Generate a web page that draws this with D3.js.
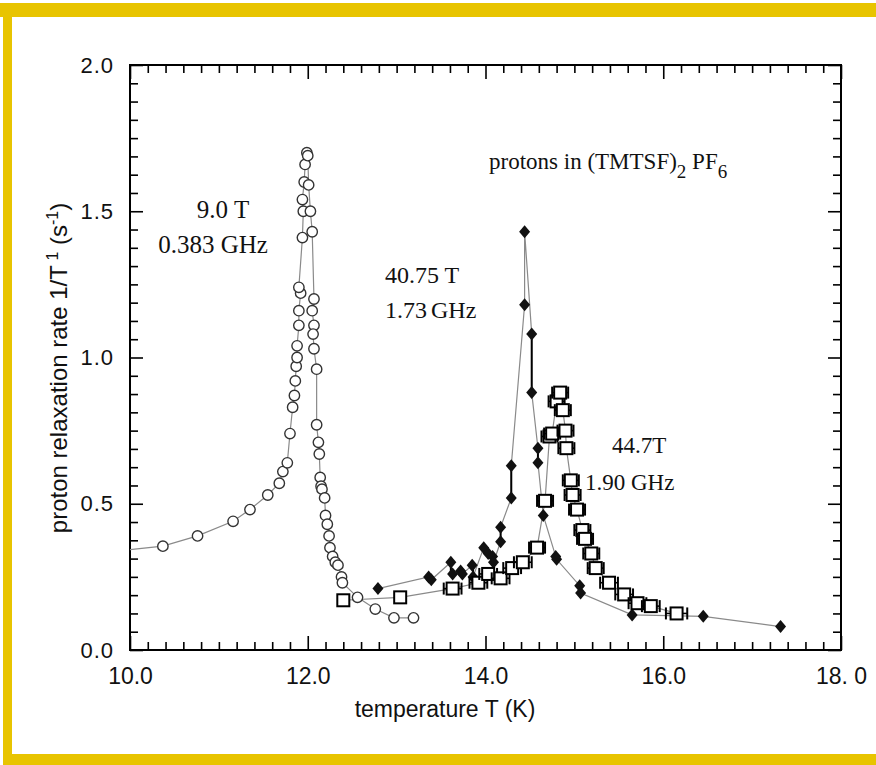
<!DOCTYPE html>
<html>
<head>
<meta charset="utf-8">
<script src="https://cdn.jsdelivr.net/npm/d3@7/dist/d3.min.js"></script>
<style>
  html, body { margin: 0; padding: 0; background: #fff; }
  svg { display: block; }
</style>
</head>
<body>
<svg id="chart" width="876" height="765"></svg>
<script>
// ---------------- data ----------------
const xTickValues = [10, 12, 14, 16, 18];
const xTickLabels = ["10.0", "12.0", "14.0", "16.0", "18. 0"];
const yTickValues = [0, 0.5, 1.0, 1.5, 2.0];
const yTickLabels = ["0.0", "0.5", "1.0", "1.5", "2.0"];

// 9.0 T, 0.383 GHz (open circles): [T (K), 1/T1 (s^-1)]
const series9T = [
  [9.6, 0.33], [10.37, 0.355], [10.76, 0.39], [11.16, 0.44], [11.35, 0.48],
  [11.55, 0.53], [11.68, 0.57], [11.72, 0.61], [11.77, 0.64], [11.80, 0.74],
  [11.83, 0.83], [11.85, 0.87], [11.86, 0.92], [11.87, 0.97], [11.88, 1.00],
  [11.88, 1.04], [11.90, 1.11], [11.90, 1.16], [11.92, 1.22], [11.90, 1.24],
  [11.94, 1.41], [11.95, 1.50], [11.94, 1.54], [11.96, 1.60], [11.97, 1.66],
  [11.99, 1.70], [12.00, 1.69], [12.01, 1.59], [12.03, 1.50], [12.05, 1.43],
  [12.07, 1.20], [12.05, 1.16], [12.07, 1.11], [12.06, 1.08], [12.07, 1.03],
  [12.10, 0.96], [12.10, 0.77], [12.12, 0.71], [12.13, 0.67], [12.14, 0.59],
  [12.15, 0.56], [12.16, 0.55], [12.19, 0.52], [12.20, 0.46], [12.22, 0.43],
  [12.24, 0.39], [12.25, 0.35], [12.28, 0.32], [12.31, 0.30], [12.34, 0.29],
  [12.38, 0.25], [12.39, 0.23], [12.56, 0.18], [12.76, 0.14], [12.97, 0.11],
  [13.19, 0.11]
];

// 40.75 T, 1.73 GHz (filled diamonds)
const series4075T = [
  [12.79, 0.21], [13.36, 0.25], [13.39, 0.24], [13.61, 0.30], [13.63, 0.26],
  [13.72, 0.27], [13.74, 0.26], [13.85, 0.29], [13.86, 0.25], [13.98, 0.35],
  [14.03, 0.33], [14.08, 0.32], [14.09, 0.30], [14.17, 0.37], [14.17, 0.42],
  [14.29, 0.52], [14.29, 0.63], [14.44, 1.18], [14.44, 1.43], [14.52, 1.08],
  [14.52, 0.88], [14.59, 0.69], [14.59, 0.64], [14.65, 0.46], [14.79, 0.32],
  [14.80, 0.31], [15.06, 0.22], [15.07, 0.195], [15.65, 0.12], [16.45, 0.115],
  [17.32, 0.08]
];
// vertical error bars of the 40.75 T data: [T, low, high]
const errors4075T = [
  [13.61, 0.26, 0.30], [13.86, 0.25, 0.29], [14.17, 0.37, 0.42], [14.29, 0.52, 0.63],
  [14.52, 0.88, 1.08], [14.59, 0.64, 0.69], [14.79, 0.31, 0.33], [15.07, 0.195, 0.22]
];

// 44.7 T, 1.90 GHz (open squares): [T, value, horizontal error in K]
const series447T = [
  [12.40, 0.17, 0], [13.04, 0.18, 0], [13.63, 0.21, 0.10], [13.92, 0.23, 0.10],
  [14.03, 0.26, 0.10], [14.17, 0.245, 0.10], [14.30, 0.28, 0.10], [14.42, 0.30, 0.10],
  [14.58, 0.35, 0.09], [14.67, 0.51, 0.09], [14.72, 0.73, 0.09], [14.75, 0.74, 0.09],
  [14.80, 0.85, 0.09], [14.84, 0.88, 0.09], [14.87, 0.82, 0.09], [14.90, 0.75, 0.09],
  [14.91, 0.69, 0.09], [14.96, 0.58, 0.09], [14.98, 0.53, 0.09], [15.03, 0.48, 0.09],
  [15.09, 0.41, 0.09], [15.12, 0.38, 0.09], [15.19, 0.33, 0.09], [15.24, 0.28, 0.09],
  [15.39, 0.23, 0.10], [15.56, 0.19, 0.10], [15.71, 0.16, 0.10], [15.86, 0.15, 0.10],
  [16.15, 0.125, 0.12]
];

// ---------------- layout ----------------
const svg = d3.select("#chart");
const W = 876, H = 765;
const m = { left: 130, right: 841, top: 65, bottom: 650 };

// yellow frame
svg.append("rect").attr("x", 0).attr("y", 3).attr("width", W).attr("height", 14).attr("fill", "#e8c400");
svg.append("rect").attr("x", 3).attr("y", 3).attr("width", 9).attr("height", H).attr("fill", "#e8c400");
svg.append("rect").attr("x", 3).attr("y", 754).attr("width", W).attr("height", 11).attr("fill", "#e8c400");

const x = d3.scaleLinear().domain([10, 18]).range([m.left, m.right]);
const y = d3.scaleLinear().domain([0, 2]).range([m.bottom, m.top]);

svg.append("defs").append("clipPath").attr("id", "plotclip")
  .append("rect").attr("x", m.left).attr("y", m.top)
  .attr("width", m.right - m.left).attr("height", m.bottom - m.top);

// ---------------- axes ----------------
const xMinor = d3.range(10, 18.001, 0.2).filter(v => Math.abs(v / 2 - Math.round(v / 2)) > 1e-6);
const yMinor = d3.range(0, 2.0001, 0.0625).filter(v => Math.abs(v * 2 - Math.round(v * 2)) > 1e-6);
const axisFont = "'Liberation Sans', Arial, sans-serif";

function styleAxis(g) {
  g.select(".domain").remove();
  g.selectAll(".tick line").attr("stroke", "#000").attr("stroke-width", 1.6);
}

// bottom
svg.append("g").attr("transform", `translate(0,${m.bottom})`)
  .call(d3.axisBottom(x).tickValues(xMinor).tickSize(-8).tickFormat("")).call(styleAxis);
const gBM = svg.append("g").attr("transform", `translate(0,${m.bottom})`);
gBM.call(d3.axisBottom(x).tickValues(xTickValues).tickSize(-14)
  .tickFormat((d, i) => xTickLabels[i])).call(styleAxis);
gBM.selectAll(".tick text").attr("font-family", axisFont).attr("font-size", 23)
  .attr("fill", "#111").attr("dy", "0.71em").attr("y", 18);

// top
svg.append("g").attr("transform", `translate(0,${m.top})`)
  .call(d3.axisTop(x).tickValues(xMinor).tickSize(-8).tickFormat("")).call(styleAxis);
svg.append("g").attr("transform", `translate(0,${m.top})`)
  .call(d3.axisTop(x).tickValues(xTickValues).tickSize(-14).tickFormat("")).call(styleAxis);

// left
svg.append("g").attr("transform", `translate(${m.left},0)`)
  .call(d3.axisLeft(y).tickValues(yMinor).tickSize(-8).tickFormat("")).call(styleAxis);
const gLM = svg.append("g").attr("transform", `translate(${m.left},0)`);
gLM.call(d3.axisLeft(y).tickValues(yTickValues).tickSize(-13)
  .tickFormat((d, i) => yTickLabels[i])).call(styleAxis);
gLM.selectAll(".tick text").attr("font-family", axisFont).attr("font-size", 22)
  .attr("fill", "#111").attr("x", -16).attr("letter-spacing", "1px");

// right
svg.append("g").attr("transform", `translate(${m.right},0)`)
  .call(d3.axisRight(y).tickValues(yMinor).tickSize(-8).tickFormat("")).call(styleAxis);
svg.append("g").attr("transform", `translate(${m.right},0)`)
  .call(d3.axisRight(y).tickValues(yTickValues).tickSize(-13).tickFormat("")).call(styleAxis);

// frame
svg.append("rect").attr("x", m.left).attr("y", m.top)
  .attr("width", m.right - m.left).attr("height", m.bottom - m.top)
  .attr("fill", "none").attr("stroke", "#000").attr("stroke-width", 2);

// axis titles
svg.append("text").attr("x", 445).attr("y", 717).attr("text-anchor", "middle")
  .attr("font-family", axisFont).attr("font-size", 23).attr("fill", "#111")
  .text("temperature T (K)");

const yTitle = svg.append("text")
  .attr("transform", "translate(67,368) rotate(-90)")
  .attr("text-anchor", "middle")
  .attr("font-family", axisFont).attr("font-size", 24).attr("fill", "#111");
yTitle.append("tspan").text("proton relaxation rate 1/T");
yTitle.append("tspan").attr("dy", -9).attr("font-size", 16).text(" 1");
yTitle.append("tspan").attr("dy", 9).text(" (s");
yTitle.append("tspan").attr("dy", -9).attr("font-size", 16).text("-1");
yTitle.append("tspan").attr("dy", 9).text(")");

// ---------------- annotations (under the marks) ----------------
const serif = "'Liberation Serif', 'Times New Roman', serif";
function note(tx, ty, txt, anchor, size) {
  return svg.append("text").attr("x", tx).attr("y", ty).attr("text-anchor", anchor || "start")
    .attr("font-family", serif).attr("font-size", size || 25).attr("fill", "#111").text(txt);
}
note(223, 218, "9.0 T", "middle");
note(213, 253, "0.383 GHz", "middle");
note(385, 283, "40.75 T", "start", 24);
note(385, 318, "1.73", "start", 24);
note(431, 318, "GHz", "start", 24);
note(612, 453, "44.7T", "start", 23);
note(585, 490, "1.90 GHz", "start", 23);

const title = svg.append("text").attr("x", 489).attr("y", 169)
  .attr("font-family", serif).attr("font-size", 23).attr("fill", "#111");
title.append("tspan").text("protons in (TMTSF)");
title.append("tspan").attr("dy", 9).attr("font-size", 19).text("2");
title.append("tspan").attr("dy", -9).text(" PF");
title.append("tspan").attr("dy", 9).attr("font-size", 19).text("6");

// ---------------- data marks ----------------
const plot = svg.append("g").attr("clip-path", "url(#plotclip)");
const line = d3.line().x(d => x(d[0])).y(d => y(d[1]));
const lineColor = "#8a8a8a";

[series9T, series4075T, series447T].forEach(s => {
  plot.append("path").datum(s).attr("d", line)
    .attr("fill", "none").attr("stroke", lineColor).attr("stroke-width", 1.2);
});

plot.selectAll(".dErr").data(errors4075T).join("line")
  .attr("x1", d => x(d[0])).attr("x2", d => x(d[0]))
  .attr("y1", d => y(d[1])).attr("y2", d => y(d[2]))
  .attr("stroke", "#000").attr("stroke-width", 2);

plot.selectAll(".c9").data(series9T).join("circle")
  .attr("cx", d => x(d[0])).attr("cy", d => y(d[1])).attr("r", 5.2)
  .attr("fill", "#fff").attr("stroke", "#333").attr("stroke-width", 1.4);

plot.selectAll(".d40").data(series4075T).join("path")
  .attr("d", d => {
    const cx = x(d[0]), cy = y(d[1]);
    return `M${cx},${cy - 6.5}L${cx + 5.5},${cy}L${cx},${cy + 6.5}L${cx - 5.5},${cy}Z`;
  })
  .attr("fill", "#111");

const sq = plot.selectAll(".s44").data(series447T).join("g");
sq.filter(d => d[2] > 0).each(function (d) {
  const g = d3.select(this);
  const cy = y(d[1]), x1 = x(d[0] - d[2]), x2 = x(d[0] + d[2]);
  g.append("line").attr("x1", x1).attr("x2", x2).attr("y1", cy).attr("y2", cy)
    .attr("stroke", "#000").attr("stroke-width", 1.6);
  [x1, x2].forEach(xx => g.append("line").attr("x1", xx).attr("x2", xx)
    .attr("y1", cy - 6).attr("y2", cy + 6).attr("stroke", "#000").attr("stroke-width", 2));
});
sq.append("rect")
  .attr("x", d => x(d[0]) - 6).attr("y", d => y(d[1]) - 6)
  .attr("width", 12).attr("height", 12)
  .attr("fill", "#fff").attr("stroke", "#000").attr("stroke-width", 2);
</script>
</body>
</html>
